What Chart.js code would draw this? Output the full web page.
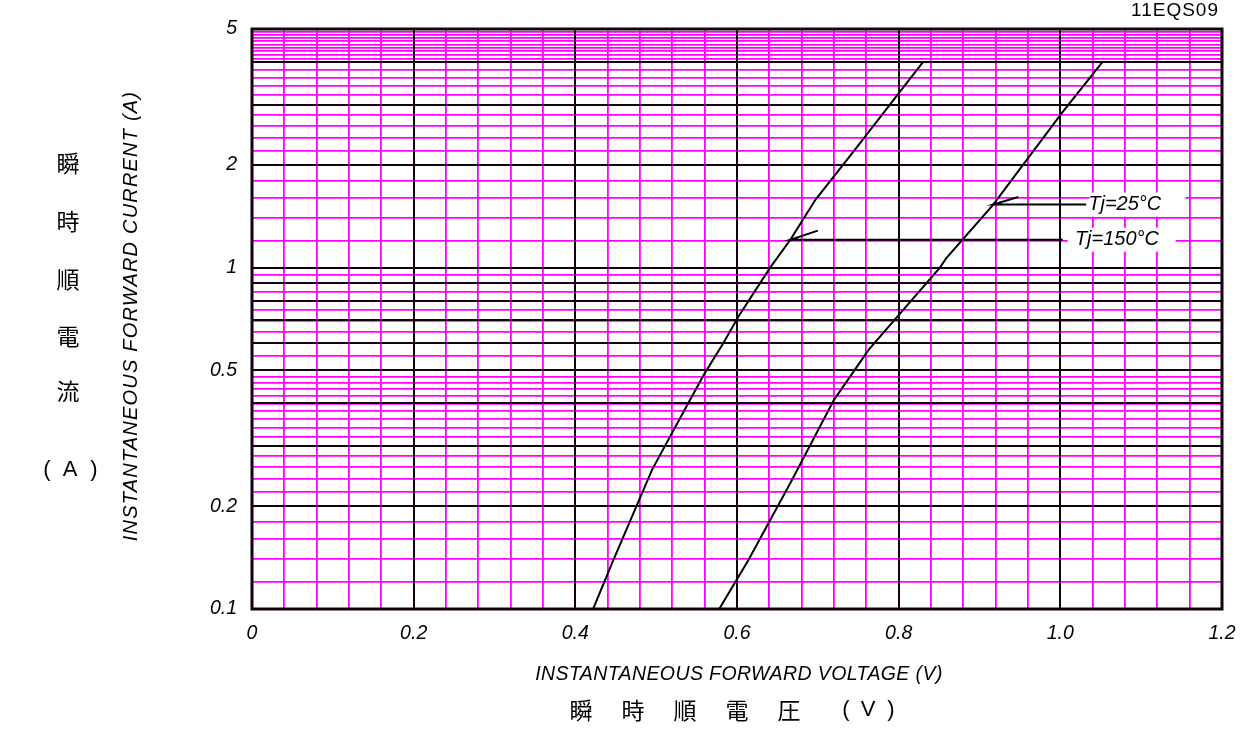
<!DOCTYPE html>
<html>
<head>
<meta charset="utf-8">
<script src="https://cdn.jsdelivr.net/npm/chart.js@4/dist/chart.umd.min.js"></script>
<style>
    html, body { margin: 0; padding: 0; background: #fff; }
</style>
</head>
<body>
<canvas id="grafico-vf" width="1254" height="729"></canvas>
<script>
// curva Tj=150°C (izquierda)
var vf150 = [0.422, 0.447, 0.495, 0.542, 0.560, 0.583, 0.602, 0.641, 0.666, 0.697, 0.745, 0.830];
var if150 = [0.100, 0.139, 0.256, 0.410, 0.490, 0.600, 0.720, 1.000, 1.207, 1.580, 2.200, 4.000];
// curva Tj=25°C (derecha)
var vf25 = [0.578, 0.614, 0.666, 0.720, 0.763, 0.851, 0.859, 0.917, 1.002, 1.052];
var if25 = [0.100, 0.139, 0.234, 0.410, 0.575, 1.000, 1.067, 1.530, 2.840, 4.000];

// lineas guia de las etiquetas
var guia25V = [0.948, 0.917, 1.032];
var guia25I = [1.610, 1.530, 1.530];
var guia150V = [0.700, 0.666, 1.003];
var guia150I = [1.283, 1.207, 1.207];
var etiquetas = ["Tj=25°C", "Tj=150°C"];

// rejilla y etiquetas de ejes
var xGrid = [0, 0.04, 0.08, 0.12, 0.16, 0.2, 0.24, 0.28, 0.32, 0.36, 0.4, 0.44, 0.48, 0.52, 0.56, 0.6,
    0.64, 0.68, 0.72, 0.76, 0.8, 0.84, 0.88, 0.92, 0.96, 1.0, 1.04, 1.08, 1.12, 1.16, 1.2];
var xMajor = [0, 0.2, 0.4, 0.6, 0.8, 1.0, 1.2];
var xLabels = ["0", "0.2", "0.4", "0.6", "0.8", "1.0", "1.2"];

var yGrid = [0.1, 0.12, 0.14, 0.16, 0.18, 0.2, 0.22, 0.24, 0.26, 0.28, 0.3, 0.32, 0.34, 0.36, 0.38,
    0.4, 0.42, 0.44, 0.46, 0.48, 0.5, 0.55, 0.6, 0.65, 0.7, 0.75, 0.8, 0.85, 0.9, 0.95, 1,
    1.2, 1.4, 1.6, 1.8, 2, 2.2, 2.4, 2.6, 2.8, 3, 3.2, 3.4, 3.6, 3.8, 4,
    4.1, 4.2, 4.3, 4.4, 4.5, 4.6, 4.7, 4.8, 4.9, 5];
var yMajor = [0.1, 0.2, 0.3, 0.4, 0.5, 0.6, 0.7, 0.8, 0.9, 1, 2, 3, 4, 5];
var yLabelValues = [0.1, 0.2, 0.5, 1, 2, 5];
var yLabels = ["0.1", "0.2", "0.5", "1", "2", "5"];

var MAGENTA = "#ff00ff";
var NEGRO = "#140010";
var FUENTE = "'Liberation Sans', Arial, sans-serif";
var FUENTE_JP = "'Noto Sans CJK JP', sans-serif";

function buscar(lista, v) {
    for (var i = 0; i < lista.length; i++) {
        if (Math.abs(lista[i] - v) < 1e-6) return i;
    }
    return -1;
}

function puntos(xs, ys) {
    return xs.map(function (v, i) { return { x: v, y: ys[i] }; });
}

function linea(xs, ys) {
    return {
        data: puntos(xs, ys),
        showLine: true,
        borderColor: "#000",
        borderWidth: 2,
        pointRadius: 0,
        tension: 0
    };
}

// lineas negras encima de la rejilla magenta
var rejillaPlugin = {
    id: "rejilla",
    beforeDatasetsDraw: function (chart) {
        var ctx = chart.ctx, a = chart.chartArea;
        var sx = chart.scales.x, sy = chart.scales.y;
        ctx.save();
        ctx.strokeStyle = NEGRO;
        ctx.lineWidth = 2;
        xMajor.forEach(function (v) {
            var p = Math.round(sx.getPixelForValue(v));
            ctx.beginPath(); ctx.moveTo(p, a.top); ctx.lineTo(p, a.bottom); ctx.stroke();
        });
        yMajor.forEach(function (v) {
            var p = Math.round(sy.getPixelForValue(v));
            ctx.beginPath(); ctx.moveTo(a.left, p); ctx.lineTo(a.right, p); ctx.stroke();
        });
        ctx.lineWidth = 3;
        ctx.strokeRect(a.left, a.top, a.right - a.left, a.bottom - a.top);

        // cajas blancas detras de las etiquetas
        ctx.fillStyle = "#fff";
        ctx.fillRect(sx.getPixelForValue(1.036), sy.getPixelForValue(1.53) - 12, 96, 24);
        ctx.fillRect(sx.getPixelForValue(1.009), sy.getPixelForValue(1.207) - 12, 108, 24);
        ctx.restore();
    }
};

var textosPlugin = {
    id: "textos",
    afterDraw: function (chart) {
        var ctx = chart.ctx;
        var sx = chart.scales.x, sy = chart.scales.y;
        ctx.save();
        ctx.fillStyle = "#000";
        ctx.textBaseline = "middle";

        // etiquetas de las curvas
        ctx.font = "italic 20px " + FUENTE;
        ctx.textAlign = "left";
        ctx.fillText(etiquetas[0], sx.getPixelForValue(1.0345), sy.getPixelForValue(1.53));
        ctx.fillText(etiquetas[1], sx.getPixelForValue(1.018), sy.getPixelForValue(1.207));

        // codigo del producto
        ctx.font = "19px " + FUENTE;
        ctx.textAlign = "right";
        ctx.letterSpacing = "1px";
        ctx.fillText("11EQS09", 1219, 11);

        // titulo eje x
        ctx.textAlign = "center";
        ctx.font = "italic 19.5px " + FUENTE;
        ctx.letterSpacing = "0.4px";
        ctx.fillText("INSTANTANEOUS FORWARD VOLTAGE (V)", 739, 675);

        ctx.letterSpacing = "0px";
        ctx.font = "23px " + FUENTE_JP;
        var jx = ["瞬", "時", "順", "電", "圧"];
        var px = [581, 633, 685, 737, 789];
        jx.forEach(function (c, i) { ctx.fillText(c, px[i], 710); });
        ctx.font = "22px " + FUENTE;
        ctx.fillText("(", 846, 710);
        ctx.fillText("V", 868, 710);
        ctx.fillText(")", 891, 710);

        // titulo eje y
        ctx.save();
        ctx.translate(131, 316);
        ctx.rotate(-Math.PI / 2);
        ctx.font = "italic 20px " + FUENTE;
        ctx.letterSpacing = "1.2px";
        ctx.fillText("INSTANTANEOUS FORWARD CURRENT (A)", 0, 0);
        ctx.restore();

        ctx.letterSpacing = "0px";
        ctx.font = "23px " + FUENTE_JP;
        var jy = ["瞬", "時", "順", "電", "流"];
        var py = [163, 221, 279, 336, 391];
        jy.forEach(function (c, i) { ctx.fillText(c, 68, py[i]); });
        ctx.font = "22px " + FUENTE;
        ctx.fillText("(", 47, 470);
        ctx.fillText("A", 70, 470);
        ctx.fillText(")", 94, 470);
        ctx.restore();
    }
};

const ctx = document.getElementById("grafico-vf");
var myChart = new Chart(ctx, {
    type: "scatter",
    data: {
        datasets: [
            linea(vf150, if150),
            linea(vf25, if25),
            linea(guia25V, guia25I),
            linea(guia150V, guia150I)
        ]
    },
    options: {
        responsive: false,
        animation: false,
        events: [],
        layout: { padding: { left: 0, right: 32, top: 29, bottom: 0 } },
        plugins: {
            legend: { display: false },
            tooltip: { enabled: false }
        },
        scales: {
            x: {
                type: "linear",
                min: 0,
                max: 1.2,
                afterBuildTicks: function (s) {
                    s.ticks = xGrid.map(function (v) { return { value: v }; });
                },
                afterFit: function (s) { s.height = 120; },
                border: { display: false },
                grid: {
                    color: MAGENTA,
                    lineWidth: 1.8,
                    drawTicks: false
                },
                ticks: {
                    autoSkip: false,
                    maxRotation: 0,
                    padding: 13,
                    color: "#000",
                    font: { family: FUENTE, size: 19.5, style: "italic" },
                    callback: function (v) {
                        var i = buscar(xMajor, v);
                        return i >= 0 ? xLabels[i] : "";
                    }
                }
            },
            y: {
                type: "logarithmic",
                min: 0.1,
                max: 5,
                afterBuildTicks: function (s) {
                    s.ticks = yGrid.map(function (v) { return { value: v }; });
                },
                afterFit: function (s) { s.width = 252; },
                border: { display: false },
                grid: {
                    color: MAGENTA,
                    lineWidth: 1.8,
                    drawTicks: false
                },
                ticks: {
                    autoSkip: false,
                    padding: 15,
                    color: "#000",
                    font: { family: FUENTE, size: 19.5, style: "italic" },
                    callback: function (v) {
                        var i = buscar(yLabelValues, v);
                        return i >= 0 ? yLabels[i] : "";
                    }
                }
            }
        }
    },
    plugins: [rejillaPlugin, textosPlugin]
});
</script>
</body>
</html>
